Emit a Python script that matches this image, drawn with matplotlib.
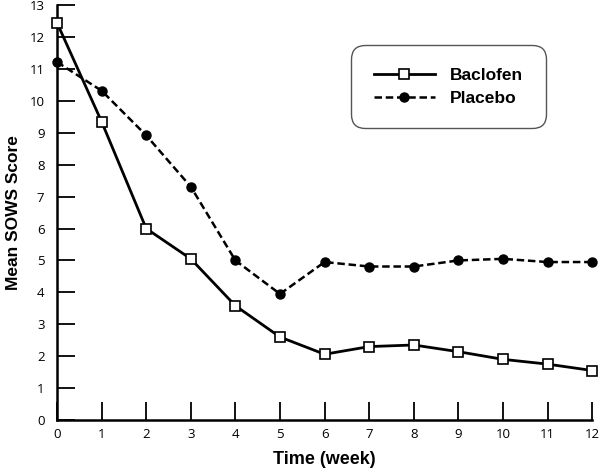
import matplotlib
matplotlib.use("Agg")
from matplotlib import pyplot as plt

weeks = list(range(13))
baclofen = [12.45, 9.35, 6.0, 5.05, 3.58, 2.6, 2.06, 2.3, 2.35, 2.14, 1.9, 1.75, 1.55]
placebo = [11.22, 10.32, 8.92, 7.31, 5.0, 3.95, 4.95, 4.81, 4.81, 5.0, 5.05, 4.95, 4.95]

fig = plt.figure(figsize=(6, 4.74), dpi=100)
ax = fig.add_axes([0.095, 0.114, 0.892, 0.875])

ax.plot(weeks, baclofen, color="black", linewidth=2, marker="s", markersize=7,
        markerfacecolor="white", markeredgecolor="black", markeredgewidth=1.2,
        label="Baclofen", clip_on=False, zorder=3)
ax.plot(weeks, placebo, color="black", linewidth=1.8, linestyle=(0, (3, 1.5)),
        marker="o", markersize=6.5, markerfacecolor="black",
        label="Placebo", clip_on=False, zorder=3)

ax.set_xlim(0, 12)
ax.set_ylim(0, 13)
ax.set_xticks(weeks)
ax.set_yticks(range(14))
for s in ["top", "right"]:
    ax.spines[s].set_visible(False)
for s in ["left", "bottom"]:
    ax.spines[s].set_linewidth(1.8)
ax.tick_params(direction="in", length=13, width=1.3, labelsize=9.5, colors="black")
ax.tick_params(axis="y", pad=9)
ax.tick_params(axis="x", pad=6)
for lab in ax.get_xticklabels() + ax.get_yticklabels():
    lab.set_family("Open Sans")

ax.set_xlabel("Time (week)", fontsize=13, fontweight="bold", family="Liberation Sans", labelpad=7)
ax.set_ylabel("Mean SOWS Score", fontsize=12.5, fontweight="bold", family="Liberation Sans", labelpad=6)

leg = ax.legend(loc="upper left", bbox_to_anchor=(0.55, 0.904), fancybox=True,
                edgecolor="#555555", framealpha=1, handlelength=3.5,
                prop={"family": "Liberation Sans", "weight": "bold", "size": 12.5},
                borderpad=1.3, labelspacing=0.45, handletextpad=0.9, borderaxespad=0)
leg.get_frame().set_linewidth(1.0)
leg.get_frame().set_boxstyle("round", pad=0, rounding_size=0.8)

fig.savefig("out.png", dpi=100)
